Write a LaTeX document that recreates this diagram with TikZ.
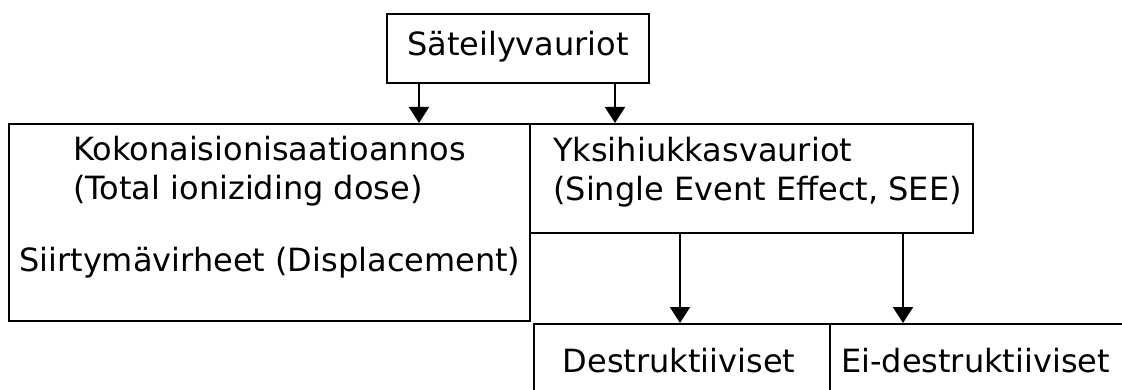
\documentclass[tikz,border=0pt]{standalone}
\usepackage{fontspec}
\setmainfont{DejaVu Sans}
\usetikzlibrary{arrows.meta}
\begin{document}
\begin{tikzpicture}[x=1pt,y=-1pt,
  box/.style={draw,line width=1.9pt,inner sep=0pt,anchor=north west},
  lbl/.style={inner sep=0pt,font=\fontsize{32}{39}\selectfont},
  arr/.style={line width=1.9pt,-{Triangle[length=16pt,width=20pt]}}]
  \useasboundingbox (0,0) rectangle (1122,390);
  \clip (0,0) rectangle (1122,390);
  % boxes
  \node[box,minimum width=262pt,minimum height=69pt] (top) at (386,13) {};
  \node[box,minimum width=521pt,minimum height=197pt] (tid) at (8,123) {};
  \node[box,minimum width=443pt,minimum height=109pt] (see) at (529,123) {};
  \node[box,minimum width=296pt,minimum height=100pt] (des) at (533,323) {};
  \node[box,minimum width=300pt,minimum height=100pt] (nondes) at (829,323) {};
  % texts
  \node[lbl,anchor=base] (t0) at (518,56) {Säteilyvauriot};
  \node[lbl,anchor=base west] (t1) at (73,161) {Kokonaisionisaatioannos};
  \node[lbl,anchor=base west] (t2) at (73,200) {(Total ioniziding dose)};
  \node[lbl,anchor=base west] (t3) at (19,272) {Siirtymävirheet (Displacement)};
  \node[lbl,anchor=base west] (t4) at (553,162) {Yksihiukkasvauriot};
  \node[lbl,anchor=base west] (t5) at (553,201) {(Single Event Effect, SEE)};
  \node[lbl,anchor=base] (t6) at (679,372) {Destruktiiviset};
  \node[lbl,anchor=base] (t7) at (975.5,372) {Ei-destruktiiviset};
  % connectors
  \coordinate (c1) at (419,0);
  \coordinate (c2) at (615,0);
  \coordinate (c3) at (680,0);
  \coordinate (c4) at (903,0);
  \draw[arr] (top.south -| c1) -- (tid.north -| c1);
  \draw[arr] (top.south -| c2) -- (see.north -| c2);
  \draw[arr] (see.south -| c3) -- (des.north -| c3);
  \draw[arr] (see.south -| c4) -- (nondes.north -| c4);
\end{tikzpicture}
\end{document}
